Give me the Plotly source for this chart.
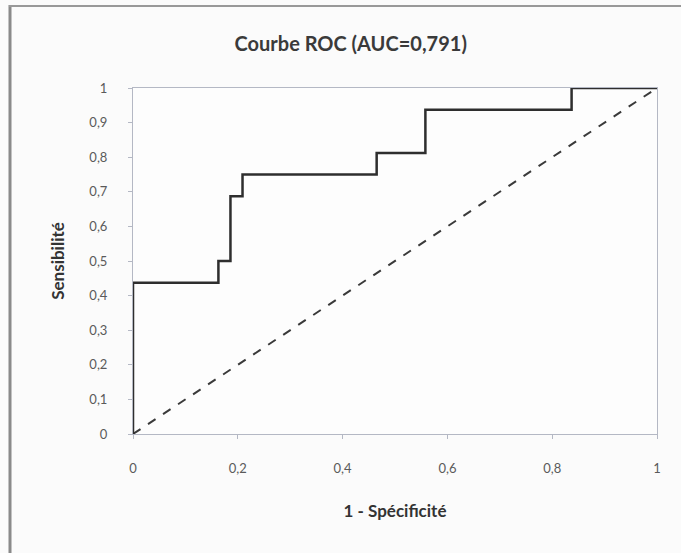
import plotly.graph_objects as go

# ROC curve points (1 - specificity, sensitivity)
fpr = [0, 0, 0.163, 0.186, 0.209, 0.465, 0.558, 0.837, 1]
tpr = [0, 0.4375, 0.5, 0.6875, 0.75, 0.8125, 0.9375, 1, 1]
diag_x = [0, 1]
diag_y = [0, 1]
tick_vals_x = [0, 0.2, 0.4, 0.6, 0.8, 1]
tick_text_x = ["0", "0,2", "0,4", "0,6", "0,8", "1"]
tick_vals_y = [0, 0.1, 0.2, 0.3, 0.4, 0.5, 0.6, 0.7, 0.8, 0.9, 1]
tick_text_y = ["0", "0,1", "0,2", "0,3", "0,4", "0,5", "0,6", "0,7", "0,8", "0,9", "1"]

W, H = 681, 553
ML, MR, MT, MB = 133, 24, 88, 119
pw, ph = W - ML - MR, H - MT - MB

def px(x):
    return (x - ML) / pw

def py(y):
    return (H - MB - y) / ph

fig = go.Figure()
fig.add_trace(go.Scatter(x=diag_x, y=diag_y, mode="lines",
                         line=dict(color="#3a3a3a", width=2, dash="dash"),
                         showlegend=False, hoverinfo="skip"))
fig.add_trace(go.Scatter(x=fpr, y=tpr, mode="lines", line_shape="hv",
                         line=dict(color="#2e2e2e", width=2.5),
                         showlegend=False))

axis_common = dict(showgrid=False, zeroline=False, showline=True,
                   linecolor="#b4b8c4", linewidth=1, mirror=True,
                   ticks="outside", ticklen=4, tickcolor="#b4b8c4",
                   tickfont=dict(family="Lato, sans-serif", size=13, color="#5a5a5a"),
                   range=[0, 1])

fig.update_layout(
    width=W, height=H,
    margin=dict(l=ML, r=MR, t=MT, b=MB, autoexpand=False),
    paper_bgcolor="#fbfbfb", plot_bgcolor="#fdfdfd",
    title=dict(text="<b>Courbe ROC (AUC=0,791)</b>", x=0.515, xanchor="center",
               y=1 - 44 / H, yanchor="middle",
               font=dict(family="Lato, sans-serif", size=20, color="#3a3a3a")),
    xaxis=dict(axis_common, tickvals=tick_vals_x, ticktext=tick_text_x,
               ticklabelstandoff=18,
               title=dict(text="<b>1 - Spécificité</b>", standoff=30,
                          font=dict(family="Lato, sans-serif", size=17, color="#333333"))),
    yaxis=dict(axis_common, tickvals=tick_vals_y, ticktext=tick_text_y,
               ticklabelstandoff=18,
               title=dict(text="<b>Sensibilité</b>", standoff=20,
                          font=dict(family="Lato, sans-serif", size=17, color="#333333"))),
    shapes=[
        dict(type="line", xref="paper", yref="paper",
             x0=px(10), x1=px(10), y0=py(5), y1=py(560),
             line=dict(color="#8a8a8a", width=3)),
        dict(type="line", xref="paper", yref="paper",
             x0=px(9), x1=px(690), y0=py(6), y1=py(6),
             line=dict(color="#999999", width=2)),
    ],
)

fig.write_html("out.html", config={"displayModeBar": False},
               post_script="document.body.style.margin='0';")
